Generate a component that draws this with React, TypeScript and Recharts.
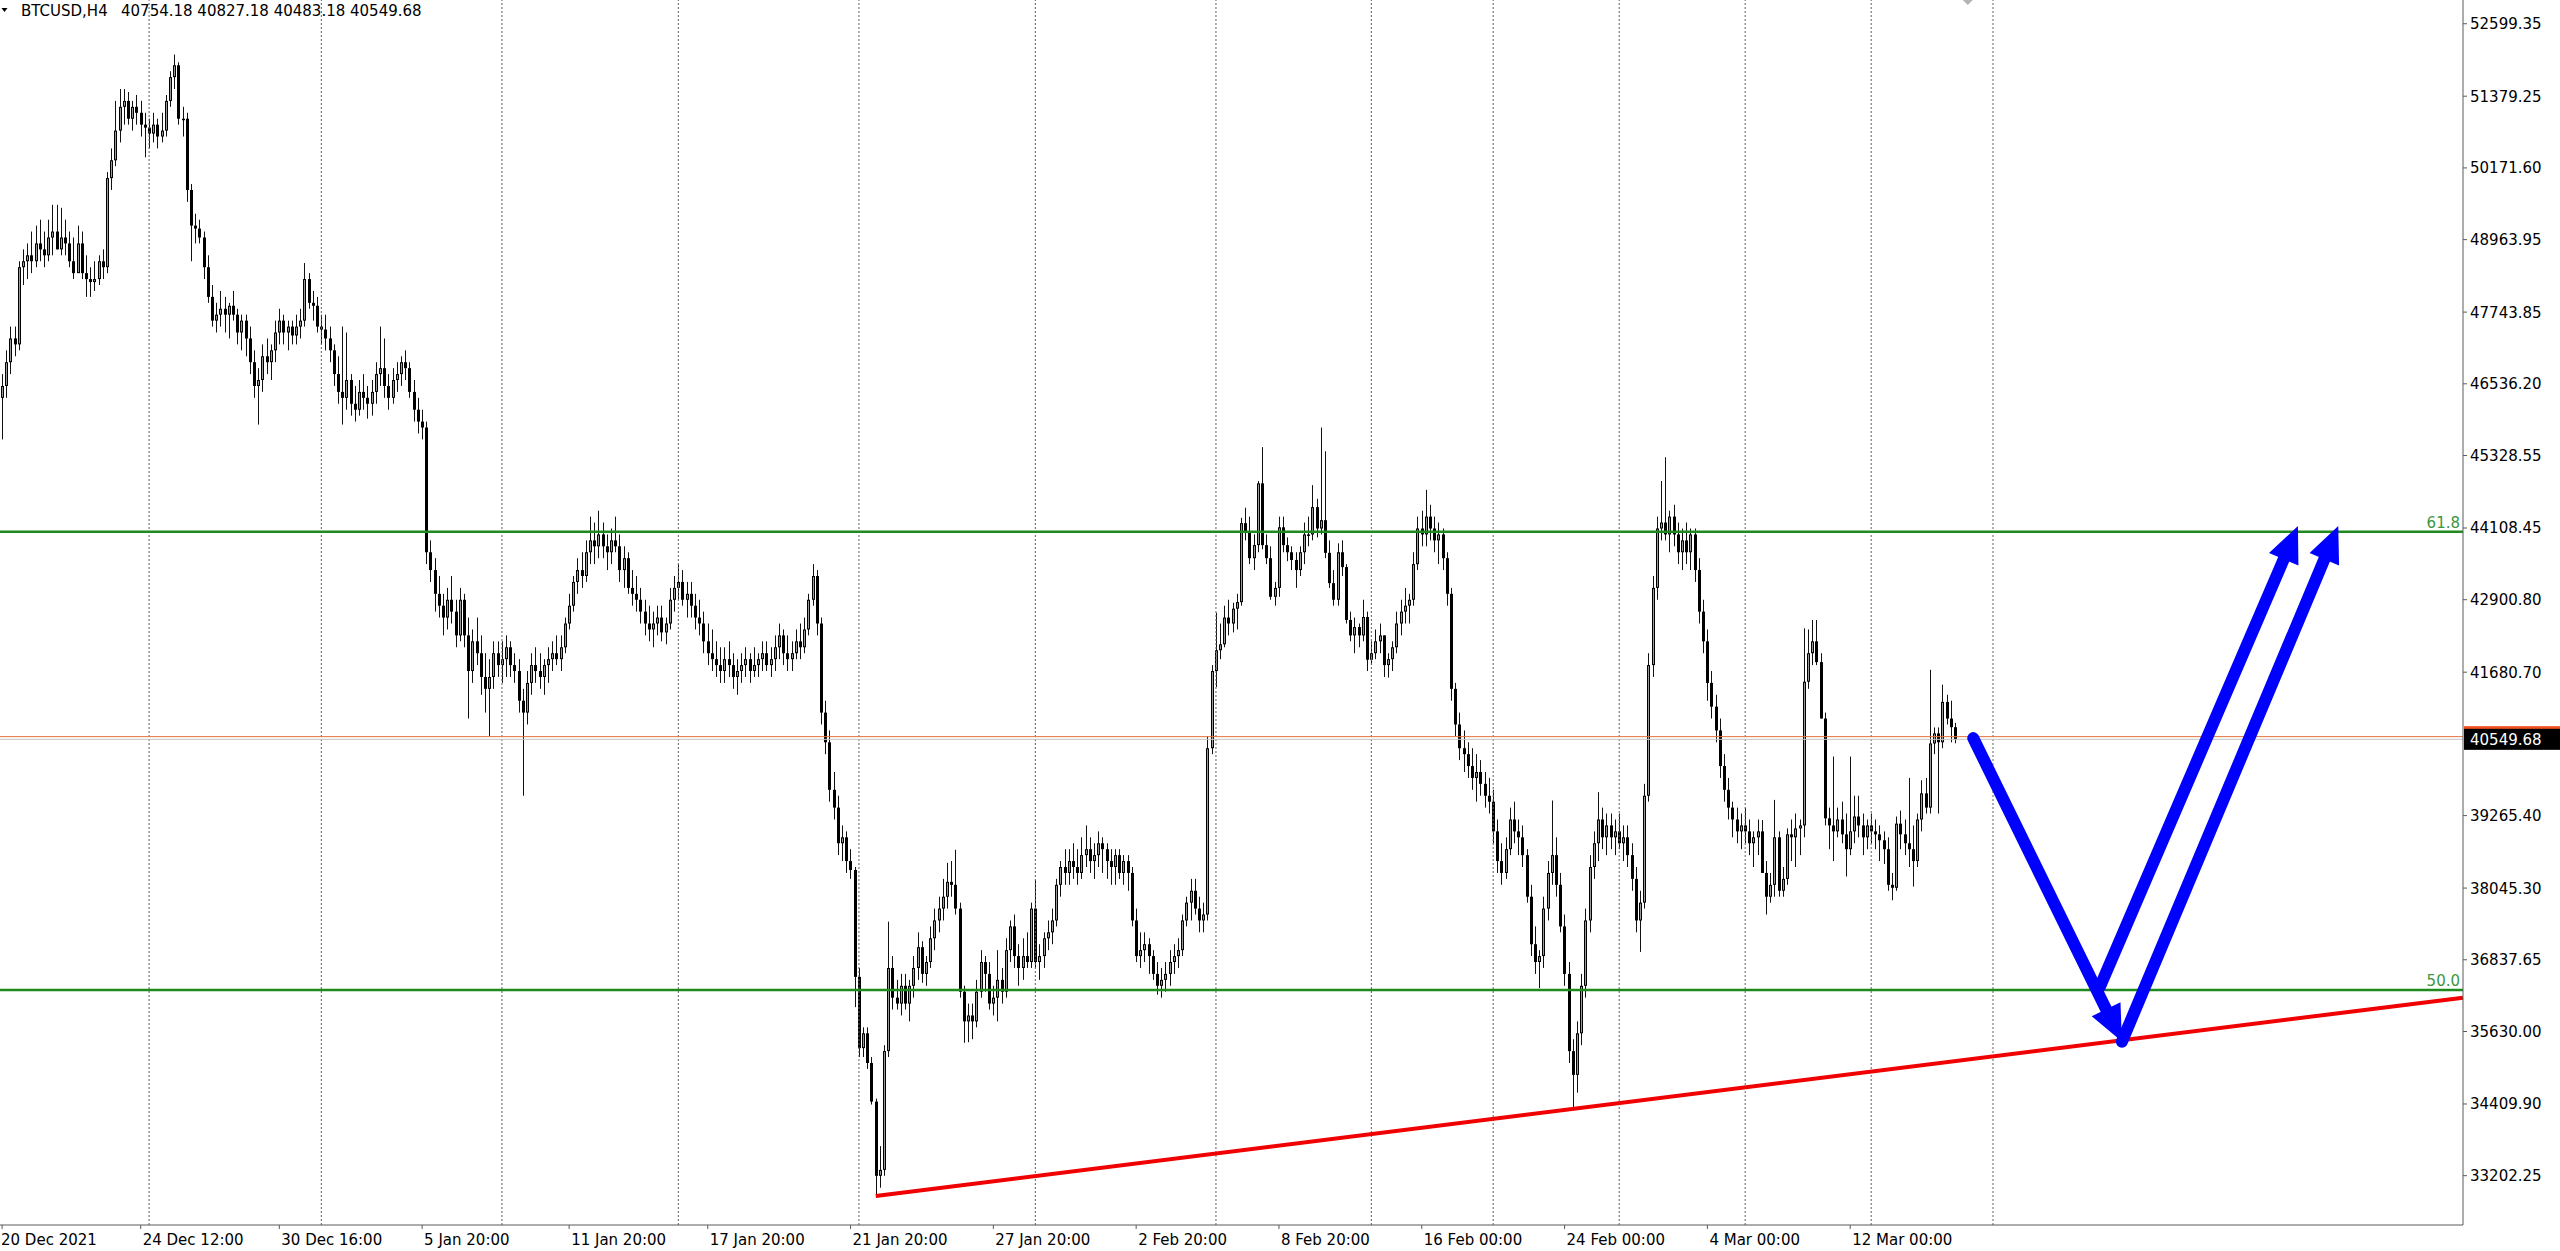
import React from "react";
import { ComposedChart, Bar, XAxis, YAxis, ReferenceLine, ReferenceDot } from "recharts";

const FONT = '"DejaVu Sans", Verdana, sans-serif';

// BTCUSD H4 candles (open = previous close)
const firstOpen = 46300;
const highs = [
  46700, 47100, 47500, 47500, 48600, 48800, 48900, 49100, 49200, 49300,
  49100, 49300, 49550, 49550, 49500, 49300, 49100, 49000, 49200, 49100,
  48700, 48500, 48600, 48700, 48800, 50100, 50500, 51300, 51500, 51500,
  51450, 51300, 51400, 51300, 51100, 51000, 51100, 51000, 51100, 51400,
  51800, 52080, 51950, 51200, 51100, 49900, 49400, 49300, 49100, 48700,
  48200, 47900, 48100, 48000, 47900, 48100, 47800, 47700, 47700, 47500,
  47100, 46800, 47200, 47300, 47200, 47600, 47800, 47700, 47600, 47600,
  47700, 47800, 48570, 48400, 48100, 48000, 47700, 47700, 47500, 47200,
  47000, 47500, 47400, 46700, 46500, 46600, 46700, 46500, 46600, 46900,
  47500, 47300, 46700, 46800, 46900, 47000, 47100, 46900, 46600, 46300,
  46100, 45900, 43900, 43600, 43300, 43000, 43100, 43300, 42900, 43100,
  43000, 42600, 42400, 42600, 42300, 42000, 41900, 42200, 42200, 42200,
  42300, 42200, 42000, 41900, 41400, 41700, 42000, 42100, 42000, 41900,
  42100, 42200, 42300, 42300, 42600, 43000, 43300, 43600, 43700, 43900,
  44300, 44200, 44400, 44200, 44000, 44100, 44300, 44000, 43800, 43700,
  43400, 43300, 43100, 42900, 42800, 42700, 42800, 42800, 42600, 43100,
  43300, 43500, 43400, 43200, 43200, 43000, 42900, 42700, 42500, 42400,
  42200, 42100, 42100, 42200, 42000, 41900, 42000, 42100, 42000, 42100,
  42000, 42200, 42200, 42100, 42300, 42500, 42400, 42300, 42200, 42400,
  42500, 42600, 43000, 43500, 43400, 42600, 41200, 40700, 40000, 39600,
  39100, 39000, 38700, 38400, 36700, 35700, 35700, 35200, 34500, 33700,
  35400, 37480, 36900, 36500, 36600, 36600, 36500, 36900, 37300, 37150,
  36900, 37400, 37700, 37900, 38200, 38470, 38500, 38690, 37800, 36400,
  36100, 36100, 36500, 37000, 36900, 36800, 36400, 37000, 36700, 37200,
  37500, 37600, 37100, 37200, 37300, 37800, 38180, 37100, 37300, 37500,
  37700, 38200, 38500, 38700, 38700, 38800, 38700, 38900, 39100, 38900,
  38800, 39000, 38900, 38800, 38700, 38700, 38700, 38600, 38600, 38400,
  37700, 37300, 37300, 37200, 37000, 36800, 36700, 36800, 37000, 37100,
  37200, 37600, 37900, 38200, 38200, 37900, 37800, 40600, 41800, 42680,
  42500, 42800, 42900, 42850, 43000, 44280, 44450, 44300, 44000, 44900,
  45470, 44000, 43800, 43200, 44300, 44300, 43950, 43800, 43700, 43800,
  44200, 44300, 44830, 44600, 45800, 45400, 43900, 43400, 43850, 43900,
  43500, 42700, 42600, 42500, 42900, 42700, 42200, 42400, 42500, 42300,
  42000, 42200, 42700, 42900, 43100, 43000, 43700, 44300, 44400, 44750,
  44500, 44300, 44200, 44100, 43700, 43100, 41500, 41000, 40700, 40500,
  40400, 40300, 40200, 40000, 39900, 39700, 39200, 38800, 38900, 39400,
  39500, 39200, 39100, 38700, 38100, 37400, 37000, 37900, 38500, 39520,
  38900, 38300, 37600, 36800, 35500, 35800, 36600, 37700, 38600, 39000,
  39660, 39400, 39300, 39300, 39200, 39300, 39100, 39100, 38800, 38400,
  38000, 39800, 42000, 43300, 44300, 44900, 45300, 44400, 44500, 44200,
  44100, 44200, 44100, 44100, 43600, 42900, 42400, 41700, 41300, 40900,
  40300, 39900, 39500, 39400, 39300, 39400, 39200, 39000, 39200, 39190,
  38500, 38300, 39530, 39000, 38400, 39050, 39200, 39300, 39200, 42420,
  42400, 42560, 42560, 42000, 41000, 39400, 40260, 39400, 39500, 39300,
  40260, 39600, 39600, 39300, 39200, 39300, 39200, 39100, 39000, 38900,
  38300, 39250, 39350, 39200, 39900, 39100, 39300, 39860, 39900, 41720,
  40750, 40750, 41470, 41300, 41200, 40827.18,
];
const lows = [
  45600, 46300, 46700, 47000, 47100, 48200, 48300, 48400, 48500, 48600,
  48500, 48600, 48700, 48800, 48700, 48700, 48500, 48300, 48500, 48300,
  48000, 48000, 48100, 48200, 48300, 48400, 49800, 50200, 50600, 50900,
  50900, 50800, 50900, 50700, 50350, 50500, 50600, 50500, 50600, 50700,
  51200, 51500, 50900, 50700, 49600, 48600, 48900, 48900, 48300, 47900,
  47500, 47400, 47500, 47400, 47300, 47600, 47200, 47100, 47000, 46700,
  46300, 45850, 46400, 46700, 46600, 46900, 47200, 47200, 47100, 47200,
  47200, 47300, 47500, 47800, 47600, 47400, 47200, 47100, 46900, 46500,
  46200, 45850, 46100, 46000, 45900, 46000, 46100, 45950, 46000, 46200,
  46500, 46300, 46100, 46200, 46400, 46500, 46600, 46300, 45900, 45700,
  45600, 43500, 43200, 42700, 42600, 42300, 42400, 42500, 42100, 42200,
  42100, 40900, 41500, 41800, 41300, 41000, 40600, 41400, 41600, 41500,
  41600, 41600, 41500, 41000, 39600, 40800, 41300, 41500, 41400, 41300,
  41500, 41700, 41800, 41700, 42000, 42400, 42700, 43000, 43100, 43200,
  43500, 43500, 43600, 43600, 43400, 43500, 43700, 43200, 43100, 43000,
  42800, 42700, 42500, 42300, 42200, 42100, 42300, 42200, 42150, 42400,
  42700, 42900, 42800, 42600, 42600, 42400, 42300, 42000, 41800, 41700,
  41600, 41500, 41500, 41600, 41400, 41300, 41500, 41600, 41500, 41600,
  41600, 41700, 41700, 41600, 41700, 41900, 41800, 41700, 41700, 41900,
  41900, 42000, 42300, 42800, 42300, 40800, 40300, 39500, 39200, 38600,
  38500, 38300, 38200, 36040, 35200, 35200, 35000, 34400, 32860, 33000,
  33200, 35200, 36000, 36000, 35900, 36000, 35800, 36200, 36500, 36450,
  36400, 36700, 37000, 37300, 37500, 37700, 37900, 37600, 36200, 35440,
  35450, 35500, 35700, 36200, 36300, 36000, 35900, 35800, 36100, 36200,
  36800, 36700, 36400, 36500, 36700, 36700, 36700, 36500, 36700, 37000,
  37100, 37400, 37900, 38100, 38100, 38200, 38100, 38200, 38400, 38300,
  38200, 38400, 38300, 38200, 38100, 38100, 38200, 38100, 38000, 37400,
  36800, 36700, 36800, 36600, 36500, 36250, 36200, 36300, 36400, 36600,
  36700, 36900, 37400, 37500, 37600, 37300, 37300, 37500, 40300, 41430,
  41900, 42100, 42300, 42350, 42400, 42800, 43900, 43500, 43400, 43700,
  43750, 43500, 42900, 42800, 42950, 43700, 43550, 43400, 43100, 43300,
  43500, 43800, 43900, 43950, 44000, 43600, 43100, 42800, 42800, 43300,
  42500, 42200, 42000, 42100, 42200, 41700, 41800, 41900, 42000, 41600,
  41590, 41700, 42000, 42300, 42500, 42500, 42800, 43400, 43800, 43800,
  43900, 43700, 43500, 43400, 42800, 41200, 40600, 40200, 40000, 39900,
  39700, 39500, 39600, 39400, 39300, 38800, 38300, 38100, 38200, 38600,
  38800, 38600, 38400, 37800, 36900, 36600, 36360, 36700, 37500, 38100,
  37900, 37300, 36400, 35100, 34320, 34600, 35400, 36200, 37300, 38200,
  38500, 38700, 38600, 38700, 38600, 38700, 38500, 38400, 38000, 37300,
  36970, 37700, 39500, 41600, 42900, 43900, 43900, 43700, 43800, 43500,
  43400, 43500, 43400, 43200, 42500, 42000, 41200, 40900, 40500, 39900,
  39500, 39200, 38900, 38800, 38700, 38800, 38600, 38400, 38600, 38300,
  37600, 37800, 37900, 37900, 37900, 38100, 38500, 38400, 38600, 38900,
  41400, 41800, 41800, 40900, 39100, 38700, 38500, 38900, 38800, 38240,
  38600, 38800, 38900, 38600, 38700, 38800, 38700, 38500, 38450, 38000,
  37840, 38000, 38700, 38600, 38400, 38070, 38400, 39000, 39300, 39300,
  40300, 39300, 40400, 40800, 40500, 40483.18,
];
const closes = [
  46500, 46900, 47300, 47200, 48500, 48600, 48700, 48600, 48900, 48800,
  48700, 49000, 49100, 48800, 49000, 48900, 48600, 48400, 48900, 48400,
  48300, 48250, 48300, 48600, 48500, 50000, 50300, 50800, 51200, 51300,
  51000, 51200, 51100, 50900, 50850, 50750, 50900, 50700, 50800, 51300,
  51700, 51900, 51000, 51000, 49800, 49200, 49150, 49000, 48500, 48000,
  47600, 47700, 47800, 47700, 47850, 47700, 47400, 47600, 47300, 46900,
  46500, 46600, 47000, 46900, 47100, 47400, 47600, 47400, 47500, 47350,
  47500, 47600, 48300, 47900, 47850, 47500, 47450, 47300, 47100, 46700,
  46400, 46300, 46600, 46200, 46100, 46400, 46300, 46200, 46400, 46700,
  46800, 46500, 46300, 46600, 46700, 46900, 46800, 46400, 46100, 45900,
  45800, 43700, 43400, 43000, 42800, 42600, 42900, 42700, 42300, 42900,
  42300, 41700, 42200, 42000, 41600, 41400, 41600, 42000, 41800, 41900,
  42100, 41800, 41700, 41200, 41000, 41500, 41800, 41700, 41600, 41800,
  41900, 42000, 41900, 42100, 42500, 42800, 43200, 43400, 43300, 43700,
  43900, 43800, 44000, 43800, 43700, 43900, 43800, 43400, 43600, 43100,
  43000, 42900, 42700, 42500, 42400, 42500, 42600, 42350, 42500, 42900,
  43100, 43200, 42900, 43000, 42800, 42600, 42500, 42200, 42000, 41900,
  41800, 41700, 41900, 41800, 41600, 41700, 41800, 41900, 41700, 41800,
  41900, 42000, 41800, 41900, 42100, 42300, 42000, 41900, 42000, 42200,
  42100, 42400, 42900, 43300, 42500, 41000, 40500, 39700, 39400, 38800,
  38900, 38500, 38350, 36550, 35350, 35600, 35100, 34450, 33200, 33300,
  35300, 36700, 36200, 36100, 36400, 36100, 36400, 36700, 37050, 36600,
  36800, 37200, 37500, 37700, 37900, 38150, 38100, 37700, 36300, 35800,
  35900, 35800, 36300, 36800, 36600, 36100, 36200, 36500, 36300, 37000,
  37400, 36900, 36700, 36900, 36800, 37700, 36800, 36900, 37200, 37300,
  37500, 38100, 38400, 38300, 38500, 38400, 38300, 38600, 38700, 38500,
  38600, 38800, 38700, 38500, 38400, 38600, 38300, 38500, 38300, 37500,
  36900, 37000, 37100, 36900, 36600, 36400, 36500, 36600, 36800, 36900,
  37000, 37500, 37800, 38000, 37700, 37500, 37600, 40400, 41700, 42050,
  42150, 42600, 42500, 42750, 42860, 44190, 44050, 43600, 43820, 44860,
  43820, 43600, 42950, 43100, 44120, 43820, 43700, 43570, 43400, 43700,
  44000, 44000, 44460, 44100, 44240, 43690, 43180, 42900, 43700, 43450,
  42560, 42300, 42440, 42300, 42610, 41890, 42000, 42200, 42300, 41800,
  41900, 42100, 42500, 42700, 42800, 42900, 43500, 44100, 44000, 44300,
  44100, 43900, 44000, 43600, 43000, 41400, 40800, 40400, 40300, 40100,
  39900, 40000, 39800, 39600, 39500, 39000, 38500, 38300, 38700, 39200,
  39000, 38900, 38600, 37900, 37100, 36800, 36900, 37700, 38300, 38600,
  38100, 37400, 36600, 35300, 34900, 35600, 36400, 37500, 38400, 38800,
  39200, 38900, 39100, 38900, 39000, 38800, 38900, 38600, 38200, 37500,
  37800, 39600, 41800, 43100, 44100, 44200, 44000, 44300, 44000, 43700,
  43900, 43700, 44000, 43400, 42700, 42200, 41500, 41100, 40700, 40100,
  39700, 39400, 39200, 39000, 39100, 39000, 38800, 38900, 39000, 38300,
  37900, 38100, 38900, 38000, 38200, 38950, 38900, 39050, 39100, 41520,
  42000, 42200, 41850, 40900, 39220, 39100, 39000, 39200, 38950, 38700,
  39000, 39250, 39100, 38900, 39100, 39000, 38950, 38850, 38700, 38100,
  38050, 39130, 38950, 38800, 38700, 38500, 39200, 39640, 39400, 40480,
  40650, 40500, 41180, 40900, 40754.18, 40549.68,
];

const xTickIdx = [0, 33, 66, 100, 135, 168, 202, 236, 270, 304, 338, 372, 406, 440];
const xTickLabels = [
  "20 Dec 2021", "24 Dec 12:00", "30 Dec 16:00", "5 Jan 20:00", "11 Jan 20:00",
  "17 Jan 20:00", "21 Jan 20:00", "27 Jan 20:00", "2 Feb 20:00", "8 Feb 20:00",
  "16 Feb 00:00", "24 Feb 00:00", "4 Mar 00:00", "12 Mar 00:00",
];
const yTicks = [
  52599.35, 51379.25, 50171.6, 48963.95, 47743.85, 46536.2, 45328.55, 44108.45,
  42900.8, 41680.7, 39265.4, 38045.3, 36837.65, 35630.0, 34409.9, 33202.25,
];
const weekLines = [35, 76, 119, 161, 204, 246, 289, 326, 355, 385, 415, 445, 474];
const fibLevels = [
  { name: "61.8", price: 44046 },
  { name: "50.0", price: 36330 },
];
const bidPrice = 40549.68;
const askPrice = 40595;
const trendLine = [
  { i: 208, p: 32860 },
  { i: 585.9, p: 36200 },
];
const arrowLines = [
  { from: { i: 469.3, p: 40570 }, to: { i: 504.7, p: 35460 } },
  { from: { i: 499.5, p: 36390 }, to: { i: 546.6, p: 44140 } },
  { from: { i: 504.7, p: 35460 }, to: { i: 556.2, p: 44140 } },
];
const marker = { i: 468, p: 53041 };

const X_DOMAIN = [-0.5, 585.9];
const Y_DOMAIN = [32372, 52999];

const rows = closes.map((c, i) => {
  const o = i === 0 ? firstOpen : closes[i - 1];
  const h = Math.max(highs[i], o, c);
  const l = Math.min(lows[i], o, c);
  return { i, o, h, l, c, range: [l, h] };
});
const last = rows[rows.length - 1];

const Candle = (props: any) => {
  const { x, y, width, height, payload } = props;
  if (!payload || height == null) return null;
  const top = Math.min(y, y + height);
  const bot = Math.max(y, y + height);
  const span = payload.h - payload.l || 1;
  const py = (v: number) => top + ((payload.h - v) / span) * (bot - top);
  const px = Math.floor(x + width / 2);
  const yo = py(payload.o);
  const yc = py(payload.c);
  const bTop = Math.min(yo, yc);
  const bH = Math.max(1.5, Math.abs(yc - yo));
  const up = payload.c > payload.o;
  return (
    <g>
      <line x1={px + 0.5} x2={px + 0.5} y1={top} y2={bot} stroke="#111" strokeWidth={1} />
      <rect x={px - 1} y={bTop} width={3} height={bH} fill="#000" />
      {up && bH > 2 && <rect x={px} y={bTop + 1} width={1} height={bH - 2} fill="#9a9a9a" />}
    </g>
  );
};

const XTick = (props: any) => {
  const { x, y, payload } = props;
  const k = xTickIdx.indexOf(payload.value);
  return (
    <text x={k === 0 ? 1 : x + 2} y={y + 14} fontSize={15} fontFamily={FONT} fill="#000" textAnchor="start">
      {xTickLabels[k]}
    </text>
  );
};

const YTick = (props: any) => {
  const { x, y, payload } = props;
  return (
    <text x={x + 1} y={y + 5.5} fontSize={15} fontFamily={FONT} fill="#000" textAnchor="start">
      {Number(payload.value).toFixed(2)}
    </text>
  );
};

const ArrowShape = (props: any) => {
  const { x1, y1, x2, y2 } = props;
  const dx = x2 - x1;
  const dy = y2 - y1;
  const len = Math.hypot(dx, dy) || 1;
  const ux = dx / len;
  const uy = dy / len;
  const nx = -uy;
  const ny = ux;
  const hl = 36;
  const hw = 16;
  const bx = x2 - ux * hl;
  const by = y2 - uy * hl;
  return (
    <g>
      <line x1={x1} y1={y1} x2={bx + ux * 4} y2={by + uy * 4} stroke="#0000FF" strokeWidth={12} strokeLinecap="round" />
      <polygon
        points={`${x2},${y2} ${bx + nx * hw},${by + ny * hw} ${bx - nx * hw},${by - ny * hw}`}
        fill="#0000FF"
      />
    </g>
  );
};

const LevelText = (text: string) => (props: any) => (
  <text x={props.cx - 3} y={props.cy - 4} fontSize={15} fontFamily={FONT} fill="#3C963C" textAnchor="end">
    {text}
  </text>
);

const AskBox = (props: any) => (
  <rect x={props.cx + 1} y={props.cy - 10.5} width={97} height={21} fill="#F0501E" />
);

const BidBox = (props: any) => (
  <g>
    <rect x={props.cx + 1} y={props.cy - 10.5} width={97} height={21} fill="#000" />
    <text x={props.cx + 7} y={props.cy + 5.5} fontSize={15} fontFamily={FONT} fill="#fff">
      {bidPrice.toFixed(2)}
    </text>
  </g>
);

const Diamond = (props: any) => {
  const { cx, cy } = props;
  return <polygon points={`${cx},${cy - 7.5} ${cx + 7.5},${cy} ${cx},${cy + 7.5} ${cx - 7.5},${cy}`} fill="#B4B4B4" />;
};

export default function App() {
  return (
    <div style={{ position: "absolute", left: 0, top: 0, width: 2560, height: 1251, background: "#fff" }}>
      <ComposedChart width={2560} height={1251} data={rows} margin={{ top: 0, right: 0, bottom: 0, left: 0 }}>
        <XAxis
          dataKey="i"
          type="number"
          domain={X_DOMAIN}
          allowDataOverflow
          ticks={xTickIdx}
          interval={0}
          height={26}
          axisLine={{ stroke: "#5a5a5a" }}
          tickLine={{ stroke: "#5a5a5a" }}
          tickSize={4}
          tick={XTick}
        />
        <YAxis
          orientation="right"
          type="number"
          domain={Y_DOMAIN}
          allowDataOverflow
          ticks={yTicks}
          interval={0}
          width={97}
          axisLine={{ stroke: "#5a5a5a" }}
          tickLine={{ stroke: "#5a5a5a" }}
          tickSize={4}
          tick={YTick}
        />
        {weekLines.map((w) => (
          <ReferenceLine key={`w${w}`} x={w} stroke="#5f5f5f" strokeDasharray="2 2" />
        ))}
        {fibLevels.map((f) => (
          <ReferenceLine key={`f${f.name}`} y={f.price} stroke="#1E8A1E" strokeWidth={2.5} />
        ))}
        <ReferenceLine y={askPrice} stroke="#E0703C" strokeWidth={1} />
        <ReferenceLine y={bidPrice} stroke="#C4C4C4" strokeWidth={1} />
        <Bar dataKey="range" barSize={3} shape={Candle} isAnimationActive={false} />
        <ReferenceLine
          segment={[
            { x: trendLine[0].i, y: trendLine[0].p },
            { x: trendLine[1].i, y: trendLine[1].p },
          ]}
          stroke="#F00000"
          strokeWidth={4}
        />
        {arrowLines.map((a, k) => (
          <ReferenceLine
            key={`a${k}`}
            segment={[
              { x: a.from.i, y: a.from.p },
              { x: a.to.i, y: a.to.p },
            ]}
            shape={ArrowShape}
          />
        ))}
        {fibLevels.map((f) => (
          <ReferenceDot key={`t${f.name}`} x={X_DOMAIN[1]} y={f.price} ifOverflow="visible" shape={LevelText(f.name)} />
        ))}
        <ReferenceDot x={X_DOMAIN[1]} y={askPrice} ifOverflow="visible" shape={AskBox} />
        <ReferenceDot x={X_DOMAIN[1]} y={bidPrice} ifOverflow="visible" shape={BidBox} />
        <ReferenceDot x={marker.i} y={marker.p} ifOverflow="visible" shape={Diamond} />
      </ComposedChart>
      <svg style={{ position: "absolute", left: 0, top: 0 }} width={520} height={24}>
        <polygon points="1.5,8 7.5,8 4.5,12" fill="#000" />
        <text x={21} y={16} fontSize={15} fontFamily={FONT} fill="#000">
          BTCUSD,H4
        </text>
        <text x={121} y={16} fontSize={15} fontFamily={FONT} fill="#000">
          {[last.o, last.h, last.l, last.c].map((v) => v.toFixed(2)).join(" ")}
        </text>
      </svg>
    </div>
  );
}
